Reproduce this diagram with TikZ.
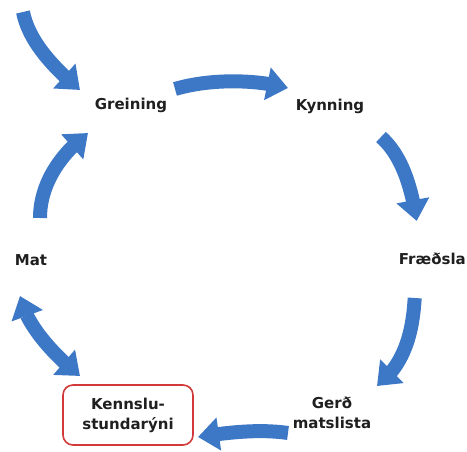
\documentclass[tikz,border=0pt]{standalone}
\usepackage{fontspec}
\setmainfont{DejaVu Sans}
\usepackage{xcolor}
\usetikzlibrary{arrows.meta, bending, calc}
\definecolor{pilblar}{HTML}{3D78C6}
\definecolor{rammirautt}{HTML}{D23A3A}

\begin{document}
\begin{tikzpicture}[
    x=1pt, y=1pt,
    every node/.style={font=\bfseries\fontsize{15}{20}\selectfont, text=black!88, align=center, inner sep=0pt},
    pil/.style={line width=14pt, draw=pilblar, >={Triangle[width=32pt, length=21pt]}, ->},
  ]
    % 画布大小
    \useasboundingbox (0, 0) rectangle (467, 452);

    % 各阶段
    \node (gre) at (131, 347) {Greining};
    \node (kyn) at (330, 346) {Kynning};
    \node[anchor=east] (fra) at (466, 193) {Fræðsla};
    \node (ger) at (332, 39) {Gerð\\matslista};
    \node (mat) at (31, 192) {Mat};
    \node[draw=rammirautt, line width=1.6pt, rounded corners=10pt,
          minimum width=130pt, minimum height=60pt] (ken) at (128, 37) {Kennslu-\\stundarýni};

    % 入口
    \coordinate (inn) at (23, 440);

    % 循环箭头
    \draw[pil] (inn) .. controls +(6, -30) and +(-26, 22) .. ($(gre) + (-51, 15)$);
    \draw[pil] ($(gre) + (44, 16)$) .. controls +(30, 9) and +(-38, 10) .. ($(kyn) + (-42, 18)$);
    \draw[pil] ($(kyn) + (51, -31)$) .. controls +(19, -17) and +(-6, 39) .. ($(fra.west) + (18, 38)$);
    \draw[pil] ($(fra.west) + (16, -39)$) .. controls +(-2, -34) and +(28, 22) .. ($(ger) + (45, 27)$);
    \draw[pil] ($(ger) + (-44, -20)$) .. controls +(-28, 4) and +(32, 5) .. ($(ken) + (70, -22)$);
    \draw[pil, <->] ($(mat) + (-11, -36)$) .. controls +(5, -26) and +(-30, 24) .. ($(ken) + (-48, 39)$);
    \draw[pil] ($(mat) + (9, 42)$) .. controls +(0, 31) and +(-31, -24) .. ($(gre) + (-43, -28)$);
  \end{tikzpicture}
\end{document}
